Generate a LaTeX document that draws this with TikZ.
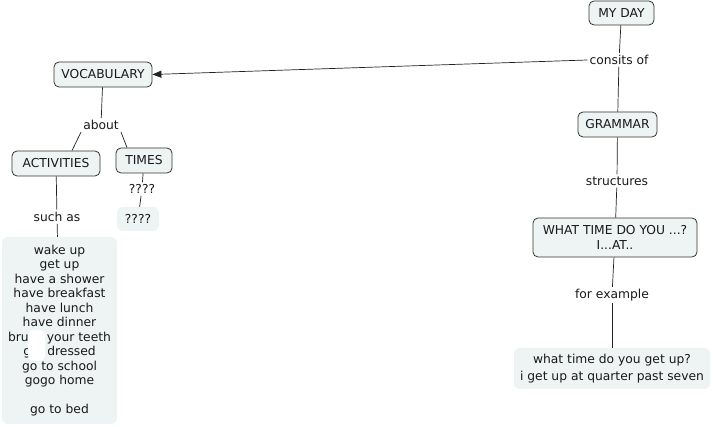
\documentclass[tikz,border=0pt]{standalone}
\usepackage{fontspec}
\setmainfont{DejaVu Sans}
\usetikzlibrary{arrows.meta}
\definecolor{boxfill}{HTML}{EEF3F4}
\definecolor{boxline}{HTML}{34342A}
\definecolor{linkc}{HTML}{222222}
\begin{document}
\begin{tikzpicture}[x=1pt,y=-1pt,
  concept/.style={draw=boxline,fill=boxfill,rounded corners=5pt,line width=0.8pt,
    font=\fontsize{12.3}{15}\selectfont,inner sep=0pt,align=center,text=black!90},
  plainbox/.style={fill=boxfill,rounded corners=6pt,inner sep=0pt,align=center,
    font=\fontsize{12.3}{15}\selectfont,text=black!90},
  lab/.style={font=\fontsize{12.3}{15}\selectfont,inner sep=2pt,text=black!90},
  link/.style={draw=linkc,line width=0.7pt}]
\useasboundingbox (0,0) rectangle (713,427);
\fill[white] (0,0) rectangle (713,427);
% concepts
\node[concept,minimum width=65pt,minimum height=24pt] (myday) at (621.5,13) {MY DAY};
\node[lab] (consits) at (619,60) {consits of};
\node[concept,minimum width=79pt,minimum height=25pt] (grammar) at (617.5,124.5) {GRAMMAR};
\node[concept,minimum width=98pt,minimum height=25pt] (vocab) at (103,74.5) {VOCABULARY};
\node[lab] (about) at (101,125) {about};
\node[concept,minimum width=88pt,minimum height=25pt] (act) at (56,163.5) {ACTIVITIES};
\node[concept,minimum width=56pt,minimum height=25pt] (times) at (144,160.5) {TIMES};
\node[lab] (q1) at (142,189) {????};
\node[plainbox,minimum width=42pt,minimum height=24pt] (q2) at (138,219) {????};
\node[lab] (such) at (57,217) {such as};
\node[plainbox,minimum width=115pt,minimum height=187pt,
  font=\fontsize{12.3}{14.5}\selectfont] (list) at (59.5,330.5)
  {wake up\\get up\\have a shower\\have breakfast\\have lunch\\have dinner\\brush your teeth\\get dressed\\go to school\\gogo home\\ \\go to bed};
\node[lab] (struct) at (617,181) {structures};
\node[concept,minimum width=164pt,minimum height=39pt,
  font=\fontsize{12.3}{15}\selectfont] (what) at (615,237.5) {WHAT TIME DO YOU ...?\\I...AT..};
\node[lab] (forex) at (612,295) {for example};
\node[plainbox,minimum width=196pt,minimum height=41pt,
  font=\fontsize{12.3}{17}\selectfont] (ex) at (612,368.5) {what time do you get up?\\i get up at quarter past seven};
% white patch over list text
\fill[white,rounded corners=5pt] (28,330) rectangle (45,361);
% links
\draw[link] (myday) -- (consits);
\draw[link] (consits) -- (grammar);
\draw[link,-{Triangle[length=9pt,width=7pt]}] (consits.west) -- (vocab.east);
\draw[link] (vocab) -- (about);
\draw[link] (about.south west) -- ([xshift=16pt]act.north);
\draw[link] (about.south east) -- ([xshift=-17pt]times.north);
\draw[link] (act) -- (such);
\draw[link] (such) -- (list);
\draw[link] (times) -- (q1);
\draw[link] (q1) -- (q2);
\draw[link] (grammar) -- (struct);
\draw[link] (struct) -- (what);
\draw[link] (what) -- (forex);
\draw[link] (forex) -- (ex);
\end{tikzpicture}
\end{document}
